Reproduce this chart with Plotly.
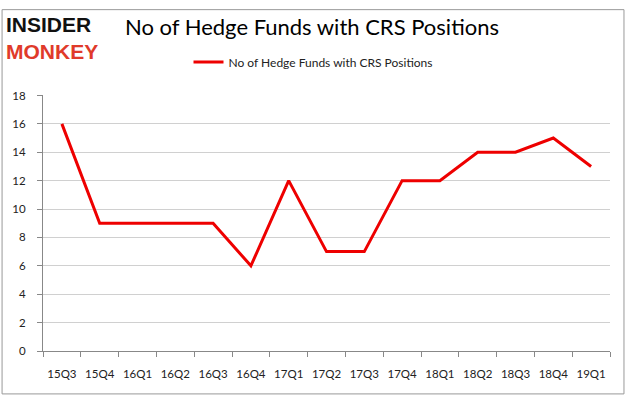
import plotly.graph_objects as go

quarters = ["15Q3", "15Q4", "16Q1", "16Q2", "16Q3", "16Q4", "17Q1", "17Q2",
            "17Q3", "17Q4", "18Q1", "18Q2", "18Q3", "18Q4", "19Q1"]
funds = [16, 9, 9, 9, 9, 6, 12, 7, 7, 12, 12, 14, 14, 15, 13]
y_ticks = [0, 2, 4, 6, 8, 10, 12, 14, 16, 18]
series_name = "No of Hedge Funds with CRS Positions"

W, H = 626, 397
ml, mr, mt, mb = 42, 16, 89, 46
pw, ph = W - ml - mr, H - mt - mb

def px_x(x):
    return (x - ml) / pw

def px_y(y):
    return (H - mb - y) / ph

font = "Lato, 'Noto Sans', sans-serif"

fig = go.Figure()
fig.add_trace(go.Scatter(
    x=list(range(len(quarters))), y=funds, mode="lines", name=series_name,
    line=dict(color="#ee0000", width=3),
))

fig.update_layout(
    width=W, height=H,
    margin=dict(l=ml, r=mr, t=mt, b=mb),
    paper_bgcolor="white", plot_bgcolor="white",
    font=dict(family=font, size=11, color="#222"),
    showlegend=True,
    legend=dict(orientation="h", xref="container", x=0.5, xanchor="center",
                yref="container", y=1 - 62 / H, yanchor="middle",
                font=dict(size=12, color="#222")),
    title=dict(text=series_name, xref="container", x=125 / W, xanchor="left",
               yref="container", y=1 - 27 / H, yanchor="middle",
               font=dict(family=font, size=22, color="#000")),
    xaxis=dict(
        range=[-0.5, len(quarters) - 0.5],
        tickmode="array", tickvals=list(range(len(quarters))), ticktext=quarters,
        ticks="", showgrid=False, zeroline=False,
        showline=True, linecolor="#888", linewidth=1,
        tickfont=dict(size=11.5, color="#222"),
        minor=dict(tick0=-0.5, dtick=1, ticks="outside", ticklen=5, tickcolor="#888", showgrid=False),
        ticklabelstandoff=12,
    ),
    yaxis=dict(
        range=[0, 18], tickmode="array", tickvals=y_ticks,
        ticks="outside", ticklen=5, tickcolor="#888",
        showgrid=True, gridcolor="#d0d0d0", gridwidth=1,
        zeroline=False, showline=True, linecolor="#888", linewidth=1,
        tickfont=dict(size=11.5, color="#222"),
        ticklabelstandoff=9,
    ),
    shapes=[dict(type="rect", xref="paper", yref="paper",
                 x0=px_x(1), x1=px_x(624), y0=px_y(395), y1=px_y(1),
                 line=dict(color="#999", width=1), fillcolor="rgba(0,0,0,0)", layer="below")],
    annotations=[
        dict(text="<b>INSIDER</b><br><b><span style='color:#e03a2a'>MONKEY</span></b>",
             xref="paper", yref="paper", x=px_x(3), y=px_y(30),
             xanchor="left", yanchor="middle", align="left", showarrow=False,
             font=dict(family="'Liberation Sans', Arial, sans-serif", size=21, color="#111")),
    ],
)

fig.write_html("out.html", post_script="document.body.style.margin='0';",
               config={"displayModeBar": False})
